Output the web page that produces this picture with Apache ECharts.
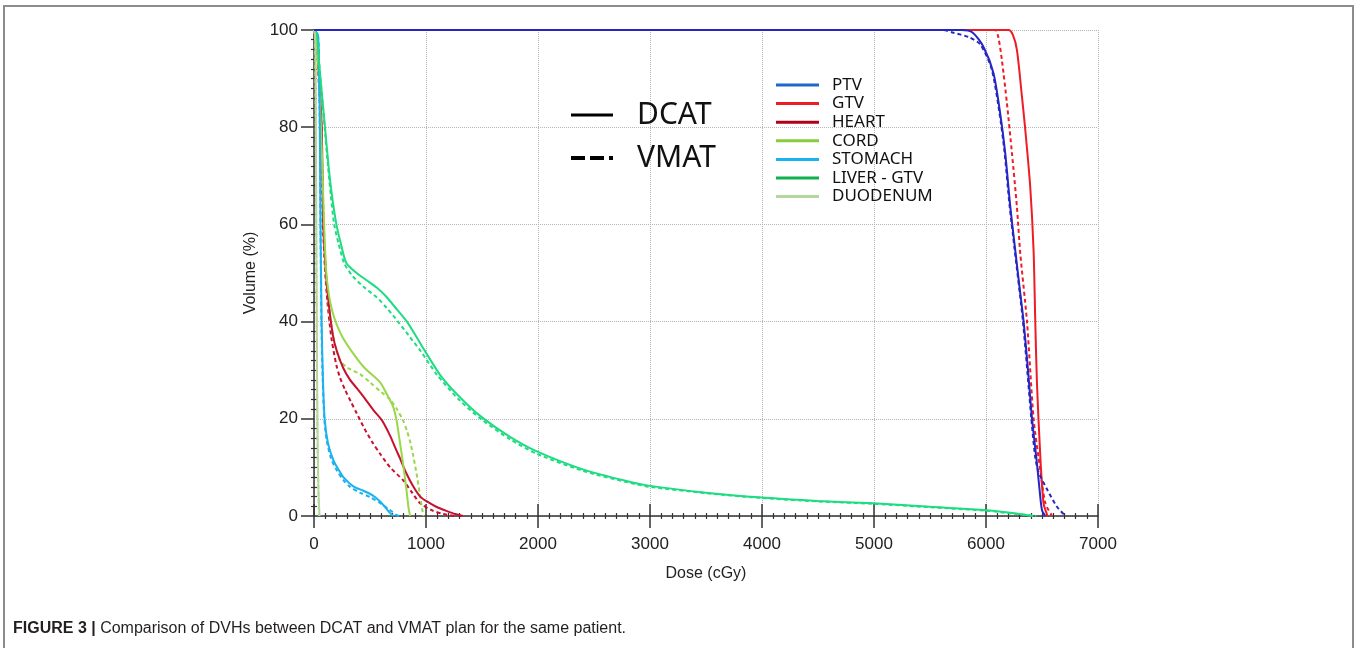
<!DOCTYPE html>
<html>
<head>
<meta charset="utf-8">
<script src="https://cdn.jsdelivr.net/npm/echarts@6/dist/echarts.min.js"></script>
<style>
  html, body { margin: 0; padding: 0; background: #fff; }
  #chart { width: 1359px; height: 648px; }
</style>
</head>
<body>
<div id="chart"></div>
<script>
// DVH curves, [dose cGy, volume %]
const ptvDcat = [[0,100],[5780,100],[5880,99.5],[5978,96.5],[6067,91.1],[6127,82.8],[6172,74.6],[6217,63.6],[6261,54.7],[6300,47],[6336,40],[6375,30],[6411,20],[6455,10.8],[6480,5],[6500,1.2],[6530,0]];
const ptvVmat = [[0,100],[5620,100],[5700,99.5],[5850,98.5],[5950,97],[6050,92],[6120,83],[6165,75],[6210,64],[6255,55],[6330,40],[6405,20],[6440,12],[6470,9],[6545,5.5],[6634,1.9],[6710,0]];
const gtvDcat = [[0,100],[6200,100],[6240,99],[6276,95.9],[6321,86.3],[6351,79.4],[6395,67.7],[6425,54.5],[6440,40],[6455,27.3],[6485,12.2],[6514,2.6],[6550,0]];
const gtvVmat = [[0,100],[6080,100],[6110,98.5],[6142,93.8],[6187,84.9],[6232,74.6],[6276,63.6],[6306,54],[6366,40],[6425,20],[6485,9.4],[6530,2.6],[6590,0]];
const heartDcat = [[0,100],[25,97],[50,88],[69,80],[83,60],[110,49],[135,43],[170,37],[203,34],[260,30.5],[322,28],[382,26.3],[450,24.3],[530,21.8],[590,20.2],[620,19.2],[680,16.5],[730,13.8],[769,11.8],[820,9],[888,6],[948,4],[1008,3],[1100,1.8],[1187,1],[1260,0.4],[1330,0]];
const heartVmat = [[0,100],[25,96],[50,86],[65,80],[80,60],[100,50],[120,44],[140,39.5],[158,36.2],[200,31],[232,28.5],[277,26],[330,23.5],[382,21.1],[450,18],[520,15.2],[590,12.8],[680,10],[798,7.3],[870,5],[948,2.6],[1050,1.2],[1155,0.4],[1250,0]];
const cordDcat = [[0,100],[20,98],[45,90],[70,75],[90,60],[110,50],[137,45],[160,42.5],[188,40.3],[250,37],[351,33.4],[450,30.5],[590,27.5],[647,25.2],[706,22.5],[736,19.8],[765,15.5],[795,10.8],[825,5.5],[845,1.5],[858,0]];
const cordVmat = [[0,100],[20,98],[45,90],[70,75],[88,60],[105,50],[125,45],[150,40],[190,35],[232,32],[300,30.5],[411,29.2],[500,27.5],[600,25.5],[679,24],[740,22],[795,19.7],[830,17.5],[855,15.6],[885,12.5],[915,8.8],[945,4.5],[965,1.5],[978,0]];
const stomachDcat = [[0,100],[35,99],[45,92],[52,80],[58,60],[68,40],[80,28],[95,20],[125,15],[173,11.5],[220,9.5],[262,8],[351,6.1],[441,5.2],[520,4.3],[590,3],[640,1.7],[680,0.6],[709,0]];
const stomachVmat = [[0,100],[35,99],[45,92],[52,80],[58,60],[66,40],[78,28],[92,20],[113,15.6],[150,12],[203,9.4],[262,7.4],[322,6],[410,4.8],[500,3.9],[600,2.5],[679,1.2],[730,0.3],[760,0]];
const liverDcat = [[0,100],[25,99],[50,92],[98,80],[130,72],[160,66],[200,60],[240,56],[290,52],[380,50],[470,48.5],[560,47],[650,45],[740,42.5],[830,40],[950,35.5],[1127,29],[1300,24.5],[1500,20.3],[1750,16.3],[1990,13.3],[2400,9.6],[2825,7],[3000,6.2],[3500,4.8],[4000,3.8],[4500,3.1],[5000,2.6],[5500,1.9],[6000,1.2],[6200,0.7],[6420,0]];
const liverVmat = [[0,100],[25,99],[50,92],[95,80],[125,72],[150,66],[180,60],[220,56],[270,52],[340,49.5],[450,47],[560,45],[650,42.8],[750,40],[850,37],[950,34],[1100,29],[1300,23.8],[1500,19.8],[1750,15.8],[1990,12.8],[2400,9.3],[2825,6.8],[3000,6],[3500,4.7],[4000,3.7],[4500,3],[5000,2.5],[5500,1.8],[6000,1.1],[6200,0.6],[6450,0]];
const duodenumDcat = [[0,100],[10,99],[15,90],[20,60],[25,40],[30,20],[40,5],[50,0]];
const duodenumVmat = [[0,100],[10,98],[16,80],[22,50],[28,25],[35,10],[45,0]];

const structures = ['PTV','GTV','HEART','CORD','STOMACH','LIVER - GTV','DUODENUM'];
const lineColors = ['#2626c4','#ee1c24','#c8102e','#99d84a','#1ab2ee','#1fdc82','#b4d89c'];
const legendColors = ['#1f68c8','#ee1c24','#b00018','#86cc3c','#1ab2ee','#0fb04e','#b4d89c'];
const zOrder = [6,4,3,3,3,3,3];
const dcatData = [ptvDcat, gtvDcat, heartDcat, cordDcat, stomachDcat, liverDcat, duodenumDcat];
const vmatData = [ptvVmat, gtvVmat, heartVmat, cordVmat, stomachVmat, liverVmat, duodenumVmat];
const planNames = ['DCAT','VMAT'];

const xTicks = { min: 0, max: 7000, interval: 1000 };
const yTicks = { min: 0, max: 100, interval: 20 };

const FONT = '"Liberation Sans", Arial, sans-serif';
const LEGEND_FONT = '"Noto Sans", "Noto Sans CJK KR", sans-serif';
const SOLID_ICON = 'path://M0,0h43v3h-43z';
const DASH_ICON = 'path://M0,0h14v4h-14z M19,0h14v4h-14z M38,0h4v4h-4z';

const series = [];
// solid first so the legend picks up the solid style
structures.forEach(function(name, i){
  series.push({ name: name, type: 'line', data: dcatData[i], xAxisIndex: 0, yAxisIndex: 0,
    symbol: 'none', smooth: 0.25, color: lineColors[i], lineStyle: { width: 2, color: lineColors[i] }, z: zOrder[i] });
});
structures.forEach(function(name, i){
  series.push({ name: name, type: 'line', data: vmatData[i], xAxisIndex: 0, yAxisIndex: 0,
    symbol: 'none', smooth: 0.25, color: lineColors[i], lineStyle: { width: 2, type: [4,3], color: lineColors[i] }, z: zOrder[i] - 1 });
});
// plan key (no data)
series.push({ name: 'DCAT', type: 'line', data: [], symbol: 'none', color: '#000', lineStyle: { width: 4, color: '#000' } });
series.push({ name: 'VMAT', type: 'line', data: [], symbol: 'none', color: '#000', lineStyle: { width: 4, type: [14,5], color: '#000' } });

const chart = echarts.init(document.getElementById('chart'));
const option = {
  animation: false,
  backgroundColor: '#fff',
  title: {
    left: 8, top: 616,
    text: '{b|FIGURE 3 |} Comparison of DVHs between DCAT and VMAT plan for the same patient.',
    textStyle: { fontFamily: FONT, fontSize: 16, fontWeight: 'normal', color: '#231f20',
      rich: { b: { fontFamily: FONT, fontSize: 16, fontWeight: 'bold', color: '#231f20' } } }
  },
  graphic: [{ type: 'rect', shape: { x: 4, y: 6, width: 1349, height: 700 }, style: { fill: 'none', stroke: '#8c8c8c', lineWidth: 2 }, silent: true }],
  grid: { left: 314, right: 261, top: 30, bottom: 132 },
  legend: [
    { orient: 'vertical', left: 771, top: 71, itemWidth: 43, itemHeight: 18, itemGap: 0.6,
      data: structures.map(function(n, i){ return { name: n, icon: SOLID_ICON, itemStyle: { color: legendColors[i] } }; }),
      textStyle: { fontFamily: LEGEND_FONT, fontSize: 17, lineHeight: 18, color: '#111', padding: [0,0,0,8] } },
    { orient: 'vertical', left: 566, top: 95, itemWidth: 42, itemHeight: 30, itemGap: 13,
      data: [{ name: planNames[0], icon: SOLID_ICON }, { name: planNames[1], icon: DASH_ICON }],
      textStyle: { fontFamily: LEGEND_FONT, fontSize: 30, lineHeight: 30, color: '#111', padding: [0,0,0,19] } }
  ],
  xAxis: [
    { type: 'value', min: xTicks.min, max: xTicks.max, interval: xTicks.interval,
      name: 'Dose (cGy)', nameLocation: 'middle', nameGap: 50,
      nameTextStyle: { fontFamily: FONT, fontSize: 16, color: '#222' },
      axisLine: { show: true, lineStyle: { color: '#333', width: 1.5 } },
      axisTick: { show: true, length: 12, lineStyle: { color: '#333', width: 1.5 } },
      minorTick: { show: true, splitNumber: 10, length: 3, lineStyle: { color: '#333', width: 1.2 } },
      axisLabel: { fontFamily: FONT, fontSize: 17, color: '#222', margin: 20, formatter: function(v){ return String(v); } },
      splitLine: { show: true, lineStyle: { color: '#b4b4b4', type: 'dotted', width: 1 } } },
    { type: 'value', position: 'bottom', min: xTicks.min, max: xTicks.max, interval: xTicks.interval,
      axisLine: { show: false },
      axisTick: { show: true, inside: true, length: 12, lineStyle: { color: '#333', width: 1.5 } },
      minorTick: { show: true, splitNumber: 10, length: 3, lineStyle: { color: '#333', width: 1.2 } },
      axisLabel: { show: false }, splitLine: { show: false } }
  ],
  yAxis: [
    { type: 'value', min: yTicks.min, max: yTicks.max, interval: yTicks.interval,
      name: 'Volume (%)', nameLocation: 'middle', nameGap: 54,
      nameTextStyle: { fontFamily: FONT, fontSize: 16, color: '#222' },
      axisLine: { show: true, lineStyle: { color: '#333', width: 1.5 } },
      axisTick: { show: true, length: 13, lineStyle: { color: '#333', width: 1.5 } },
      minorTick: { show: true, splitNumber: 10, length: 3, lineStyle: { color: '#333', width: 1.2 } },
      axisLabel: { fontFamily: FONT, fontSize: 17, color: '#222', margin: 16 },
      splitLine: { show: true, lineStyle: { color: '#b4b4b4', type: 'dotted', width: 1 } } },
    { type: 'value', position: 'left', min: yTicks.min, max: yTicks.max, interval: yTicks.interval,
      axisLine: { show: false },
      axisTick: { show: false, inside: true },
      minorTick: { show: true, splitNumber: 10, length: 3, lineStyle: { color: '#333', width: 1.2 } },
      axisLabel: { show: false }, splitLine: { show: false } }
  ],
  series: series
};
chart.setOption(option);
</script>
</body>
</html>
